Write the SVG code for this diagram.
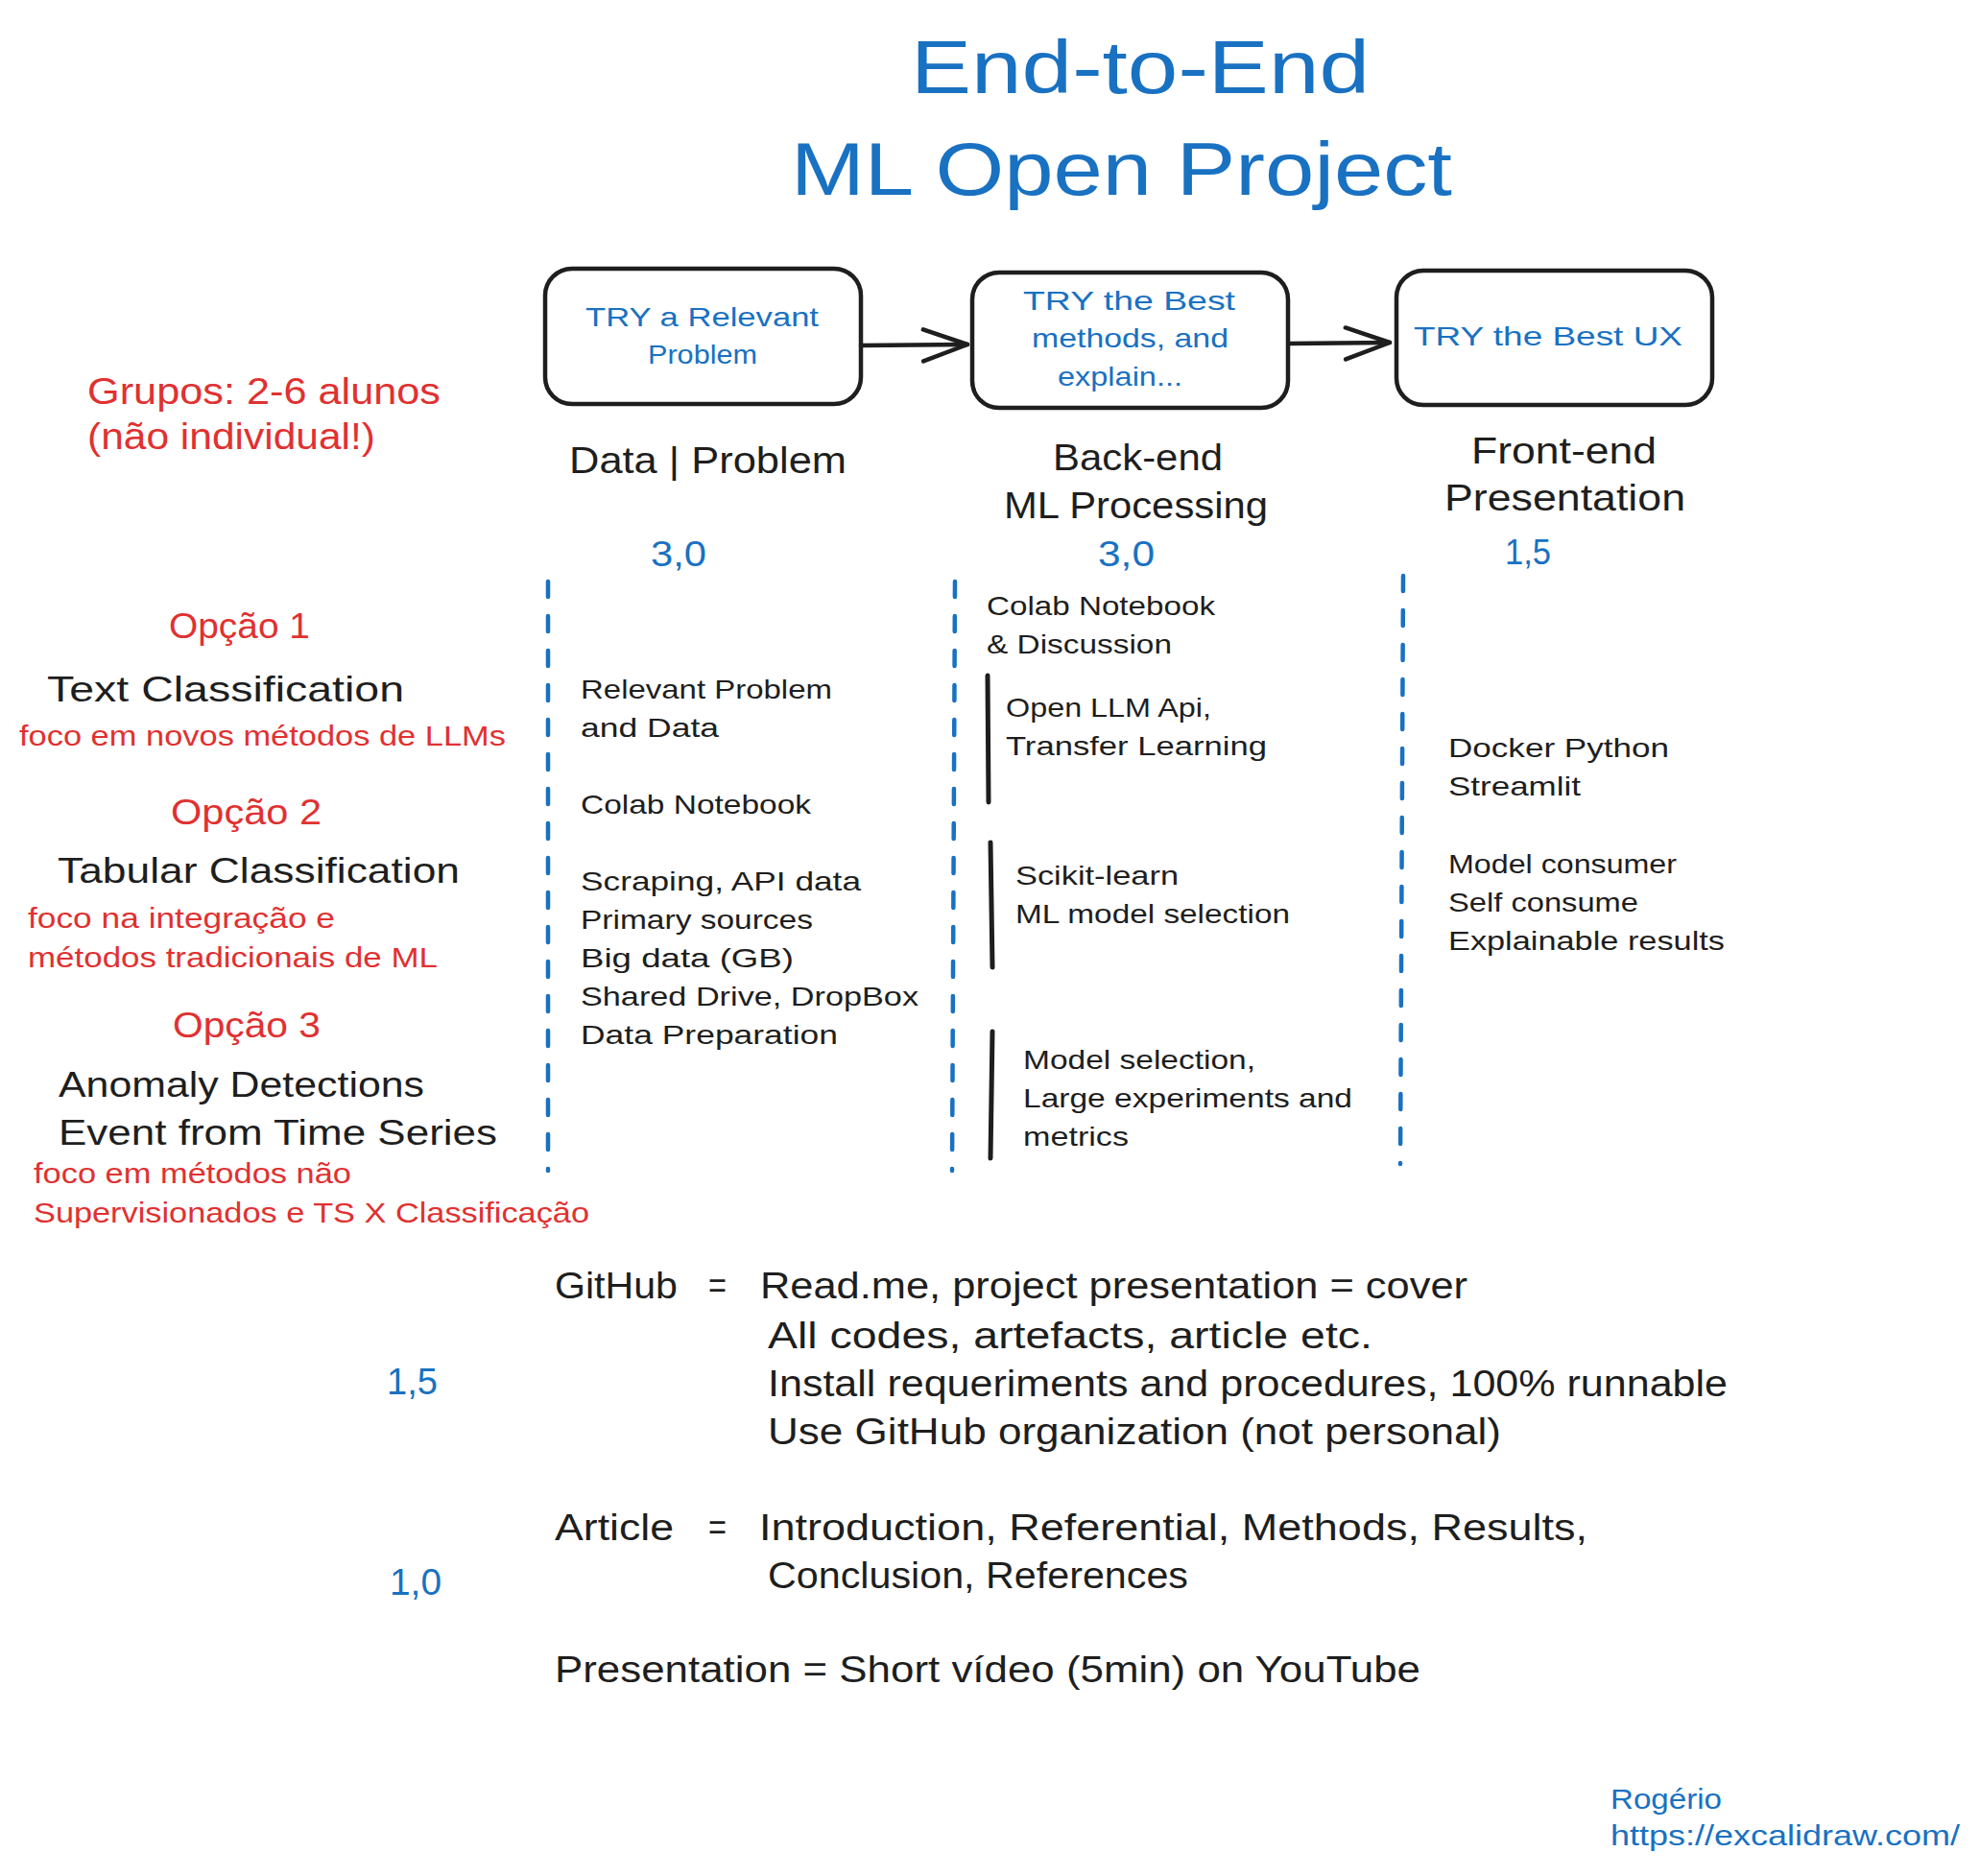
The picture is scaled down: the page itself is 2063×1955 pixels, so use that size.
<svg xmlns="http://www.w3.org/2000/svg" width="2063" height="1955" viewBox="0 0 2063 1955">
<style>
text{font-family:"Liberation Sans","DejaVu Sans",sans-serif;}
.blue{fill:#1971c2;}
.red{fill:#e03131;}
.blk{fill:#1e1e1e;}
.title{font-size:78px;}
.box{font-size:28px;}
.red1{font-size:38px;}
.opt{font-size:36px;}
.foco{font-size:30px;}
.head{font-size:39px;}
.score{font-size:37px;}
.col{font-size:28px;}
.bot{font-size:38px;}
.foot{font-size:30px;}
.node{fill:none;stroke:#1e1e1e;stroke-width:4.5;}
.conn{fill:none;stroke:#1e1e1e;stroke-width:4.5;stroke-linecap:round;}
.dash{fill:none;stroke:#1971c2;stroke-width:4.5;stroke-dasharray:16 20;stroke-linecap:round;}
.bar{fill:none;stroke:#1e1e1e;stroke-width:5;stroke-linecap:round;}
</style>
<defs>
<marker id="chev" viewBox="0 0 52 38" refX="49" refY="18" markerWidth="52" markerHeight="38" markerUnits="userSpaceOnUse" orient="auto">
<path d="M3,2 L49,18 L3,35" fill="none" stroke="#1e1e1e" stroke-width="4.5" stroke-linecap="round" stroke-linejoin="round"/>
</marker>
</defs>
<rect width="2063" height="1955" fill="#ffffff"/>

<g id="title">
<text class="blue title" x="949" y="97" textLength="478" lengthAdjust="spacingAndGlyphs">End-to-End</text>
<text class="blue title" x="824" y="203" textLength="689" lengthAdjust="spacingAndGlyphs">ML Open Project</text>
</g>

<g id="node-relevant-problem">
<rect class="node" x="568" y="280" width="329" height="141" rx="28"/>
<text class="blue box" x="610" y="340" textLength="243" lengthAdjust="spacingAndGlyphs">TRY a Relevant</text>
<text class="blue box" x="675" y="379" textLength="114" lengthAdjust="spacingAndGlyphs">Problem</text>
</g>
<g id="node-best-methods">
<rect class="node" x="1013" y="284" width="329" height="141" rx="28"/>
<text class="blue box" x="1066" y="323" textLength="221" lengthAdjust="spacingAndGlyphs">TRY the Best</text>
<text class="blue box" x="1075" y="362" textLength="205" lengthAdjust="spacingAndGlyphs">methods, and</text>
<text class="blue box" x="1102" y="402" textLength="130" lengthAdjust="spacingAndGlyphs">explain...</text>
</g>
<g id="node-best-ux">
<rect class="node" x="1455" y="282" width="329" height="140" rx="28"/>
<text class="blue box" x="1473" y="360" textLength="280" lengthAdjust="spacingAndGlyphs">TRY the Best UX</text>
</g>

<g id="connectors">
<path class="conn" d="M897,360 L1008,359" marker-end="url(#chev)"/>
<path class="conn" d="M1344,358 L1448,357" marker-end="url(#chev)"/>
</g>

<g id="groups-note">
<text class="red red1" x="91" y="421" textLength="368" lengthAdjust="spacingAndGlyphs">Grupos: 2-6 alunos</text>
<text class="red red1" x="91" y="468" textLength="300" lengthAdjust="spacingAndGlyphs">(não individual!)</text>
</g>

<g id="option-1">
<text class="red opt" x="176" y="665" textLength="147" lengthAdjust="spacingAndGlyphs">Opção 1</text>
<text class="blk opt" x="49" y="731" textLength="372" lengthAdjust="spacingAndGlyphs">Text Classification</text>
<text class="red foco" x="20" y="777" textLength="507" lengthAdjust="spacingAndGlyphs">foco em novos métodos de LLMs</text>
</g>
<g id="option-2">
<text class="red opt" x="178" y="859" textLength="157" lengthAdjust="spacingAndGlyphs">Opção 2</text>
<text class="blk opt" x="60" y="920" textLength="419" lengthAdjust="spacingAndGlyphs">Tabular Classification</text>
<text class="red foco" x="29" y="967" textLength="320" lengthAdjust="spacingAndGlyphs">foco na integração e</text>
<text class="red foco" x="29" y="1008" textLength="427" lengthAdjust="spacingAndGlyphs">métodos tradicionais de ML</text>
</g>
<g id="option-3">
<text class="red opt" x="180" y="1081" textLength="154" lengthAdjust="spacingAndGlyphs">Opção 3</text>
<text class="blk opt" x="61" y="1143" textLength="381" lengthAdjust="spacingAndGlyphs">Anomaly Detections</text>
<text class="blk opt" x="61" y="1193" textLength="457" lengthAdjust="spacingAndGlyphs">Event from Time Series</text>
<text class="red foco" x="35" y="1233" textLength="331" lengthAdjust="spacingAndGlyphs">foco em métodos não</text>
<text class="red foco" x="35" y="1274" textLength="579" lengthAdjust="spacingAndGlyphs">Supervisionados e TS X Classificação</text>
</g>

<g id="col-data">
<text class="blk head" x="593" y="493" textLength="289" lengthAdjust="spacingAndGlyphs">Data | Problem</text>
<text class="blue score" x="678" y="590" textLength="58" lengthAdjust="spacingAndGlyphs">3,0</text>
<text class="blk col" x="605" y="728" textLength="262" lengthAdjust="spacingAndGlyphs">Relevant Problem</text>
<text class="blk col" x="605" y="768" textLength="144" lengthAdjust="spacingAndGlyphs">and Data</text>
<text class="blk col" x="605" y="848" textLength="240" lengthAdjust="spacingAndGlyphs">Colab Notebook</text>
<text class="blk col" x="605" y="928" textLength="292" lengthAdjust="spacingAndGlyphs">Scraping, API data</text>
<text class="blk col" x="605" y="968" textLength="242" lengthAdjust="spacingAndGlyphs">Primary sources</text>
<text class="blk col" x="605" y="1008" textLength="222" lengthAdjust="spacingAndGlyphs">Big data (GB)</text>
<text class="blk col" x="605" y="1048" textLength="352" lengthAdjust="spacingAndGlyphs">Shared Drive, DropBox</text>
<text class="blk col" x="605" y="1088" textLength="268" lengthAdjust="spacingAndGlyphs">Data Preparation</text>
</g>

<g id="col-backend">
<text class="blk head" x="1097" y="490" textLength="177" lengthAdjust="spacingAndGlyphs">Back-end</text>
<text class="blk head" x="1046" y="540" textLength="275" lengthAdjust="spacingAndGlyphs">ML Processing</text>
<text class="blue score" x="1144" y="590" textLength="59" lengthAdjust="spacingAndGlyphs">3,0</text>
<text class="blk col" x="1028" y="641" textLength="238" lengthAdjust="spacingAndGlyphs">Colab Notebook</text>
<text class="blk col" x="1028" y="681" textLength="193" lengthAdjust="spacingAndGlyphs">&amp; Discussion</text>
<text class="blk col" x="1048" y="747" textLength="214" lengthAdjust="spacingAndGlyphs">Open LLM Api,</text>
<text class="blk col" x="1048" y="787" textLength="272" lengthAdjust="spacingAndGlyphs">Transfer Learning</text>
<text class="blk col" x="1058" y="922" textLength="170" lengthAdjust="spacingAndGlyphs">Scikit-learn</text>
<text class="blk col" x="1058" y="962" textLength="286" lengthAdjust="spacingAndGlyphs">ML model selection</text>
<text class="blk col" x="1066" y="1114" textLength="242" lengthAdjust="spacingAndGlyphs">Model selection,</text>
<text class="blk col" x="1066" y="1154" textLength="343" lengthAdjust="spacingAndGlyphs">Large experiments and</text>
<text class="blk col" x="1066" y="1194" textLength="110" lengthAdjust="spacingAndGlyphs">metrics</text>
</g>

<g id="col-frontend">
<text class="blk head" x="1533" y="483" textLength="193" lengthAdjust="spacingAndGlyphs">Front-end</text>
<text class="blk head" x="1505" y="532" textLength="251" lengthAdjust="spacingAndGlyphs">Presentation</text>
<text class="blue score" x="1568" y="588" textLength="48" lengthAdjust="spacingAndGlyphs">1,5</text>
<text class="blk col" x="1509" y="789" textLength="230" lengthAdjust="spacingAndGlyphs">Docker Python</text>
<text class="blk col" x="1509" y="829" textLength="138" lengthAdjust="spacingAndGlyphs">Streamlit</text>
<text class="blk col" x="1509" y="910" textLength="238" lengthAdjust="spacingAndGlyphs">Model consumer</text>
<text class="blk col" x="1509" y="950" textLength="198" lengthAdjust="spacingAndGlyphs">Self consume</text>
<text class="blk col" x="1509" y="990" textLength="288" lengthAdjust="spacingAndGlyphs">Explainable results</text>
</g>

<g id="separators">
<path class="dash" d="M571,606 L571,1220"/>
<path class="dash" d="M995,606 L992,1220"/>
<path class="dash" d="M1462,600 L1459,1213"/>
<path class="bar" d="M1029,704 L1030,836"/>
<path class="bar" d="M1032,878 L1034,1008"/>
<path class="bar" d="M1034,1075 L1032,1207"/>
</g>

<g id="deliverables">
<text class="blk bot" x="578" y="1353" textLength="128" lengthAdjust="spacingAndGlyphs">GitHub</text>
<text class="blk bot" x="738" y="1353" textLength="19" lengthAdjust="spacingAndGlyphs">=</text>
<text class="blk bot" x="792" y="1353" textLength="737" lengthAdjust="spacingAndGlyphs">Read.me, project presentation = cover</text>
<text class="blk bot" x="800" y="1405" textLength="630" lengthAdjust="spacingAndGlyphs">All codes, artefacts, article etc.</text>
<text class="blk bot" x="800" y="1455" textLength="1000" lengthAdjust="spacingAndGlyphs">Install requeriments and procedures, 100% runnable</text>
<text class="blk bot" x="800" y="1505" textLength="764" lengthAdjust="spacingAndGlyphs">Use GitHub organization (not personal)</text>
<text class="blue bot" x="403" y="1453" textLength="53" lengthAdjust="spacingAndGlyphs">1,5</text>
<text class="blk bot" x="578" y="1605" textLength="124" lengthAdjust="spacingAndGlyphs">Article</text>
<text class="blk bot" x="738" y="1605" textLength="19" lengthAdjust="spacingAndGlyphs">=</text>
<text class="blk bot" x="791" y="1605" textLength="863" lengthAdjust="spacingAndGlyphs">Introduction, Referential, Methods, Results,</text>
<text class="blk bot" x="800" y="1655" textLength="438" lengthAdjust="spacingAndGlyphs">Conclusion, References</text>
<text class="blue bot" x="406" y="1662" textLength="54" lengthAdjust="spacingAndGlyphs">1,0</text>
<text class="blk bot" x="578" y="1753" textLength="902" lengthAdjust="spacingAndGlyphs">Presentation = Short vídeo (5min) on YouTube</text>
</g>

<g id="footer">
<text class="blue foot" x="1678" y="1885" textLength="116" lengthAdjust="spacingAndGlyphs">Rogério</text>
<text class="blue foot" x="1678" y="1923" textLength="364" lengthAdjust="spacingAndGlyphs">https://excalidraw.com/</text>
</g>
</svg>
